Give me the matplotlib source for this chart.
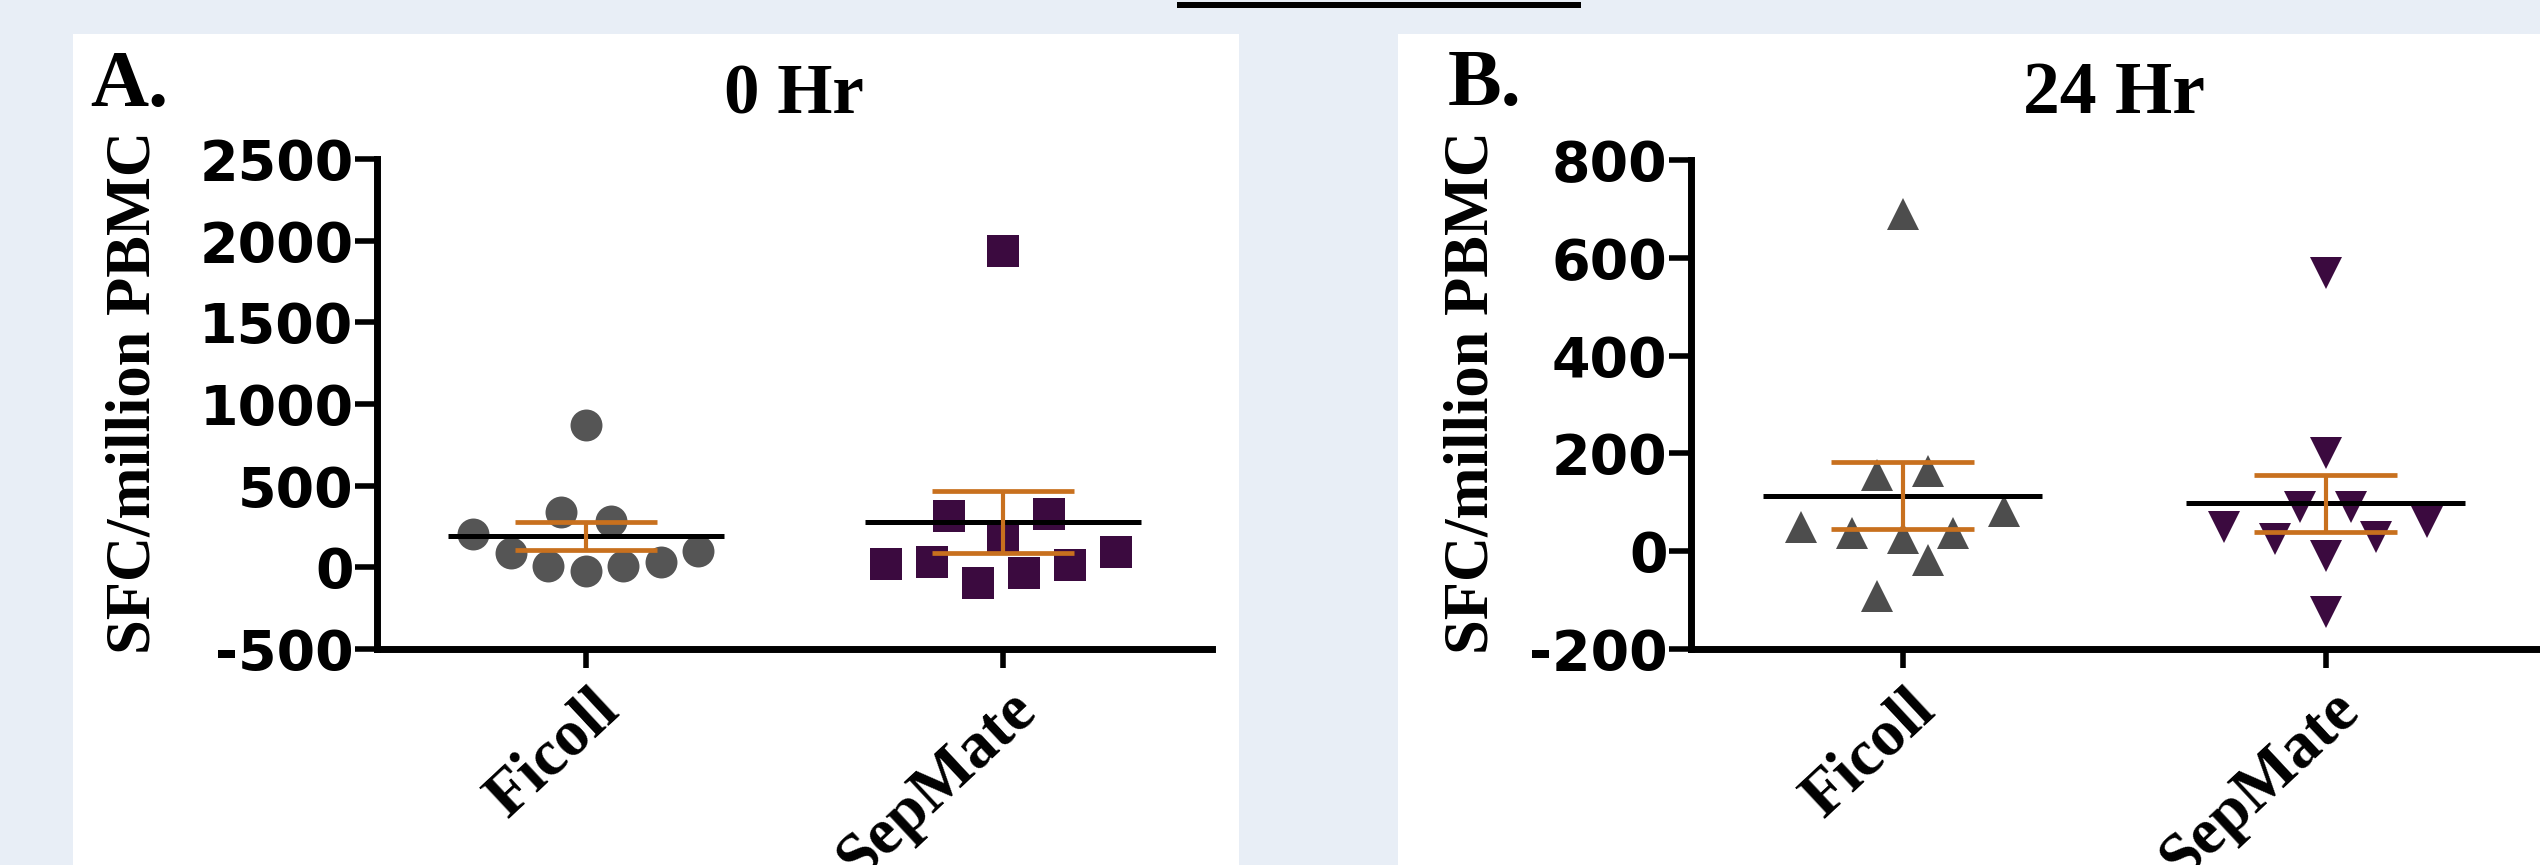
import numpy as np
import matplotlib
matplotlib.use("Agg")
import matplotlib.pyplot as plt
from matplotlib.patches import Rectangle
from matplotlib.transforms import blended_transform_factory, ScaledTranslation

plt.rcParams['axes.unicode_minus'] = False

groups = ['Ficoll', 'SepMate']

# SFC per million PBMC
ficoll_0h = [873, 204, 337, 286, 86, 10, -20, 10, 31, 102]
sepmate_0h = [1939, 316, 327, 184, 20, 31, -98, -37, 16, 92]
ficoll_24h = [690, 156, 163, 49, 38, 26, 38, 83, -17, -92]
sepmate_24h = [569, 201, 90, 90, 50, 60, 25, 30, -9, -125]

# horizontal scatter of the points around each group
ficoll_0h_dx = [0, -0.27, -0.06, 0.06, -0.18, -0.09, 0, 0.09, 0.18, 0.27]
sepmate_0h_dx = [0, -0.13, 0.11, 0, -0.28, -0.17, -0.06, 0.05, 0.16, 0.27]
ficoll_24h_dx = [0, -0.06, 0.06, -0.24, -0.12, 0, 0.12, 0.24, 0.06, -0.06]
sepmate_24h_dx = [0, 0, -0.06, 0.06, -0.24, 0.24, -0.12, 0.12, 0, 0]

ticks_0h = [-500, 0, 500, 1000, 1500, 2000, 2500]
ticks_24h = [-200, 0, 200, 400, 600, 800]

W, H = 2540, 865
bg = '#e8eef6'
grey = '#555555'
purple = '#3b0a3f'
orange = '#c8701e'
serif = 'Liberation Serif'

fig = plt.figure(figsize=(W / 100, H / 100), dpi=100, facecolor=bg)

# white panels and the bar at the top
fig.patches.append(Rectangle((73 / W, 0), (1239 - 73) / W, (H - 34) / H,
                             transform=fig.transFigure, facecolor='white', edgecolor='none', zorder=-2))
fig.patches.append(Rectangle((1398 / W, 0), (W - 1398) / W, (H - 34) / H,
                             transform=fig.transFigure, facecolor='white', edgecolor='none', zorder=-2))
fig.patches.append(Rectangle((1177 / W, 1 - 8 / H), (1581 - 1177) / W, 6 / H,
                             transform=fig.transFigure, facecolor='black', edgecolor='none', zorder=-1))


def panel(rect, series, offsets, markers, colors, ticks):
    ax = fig.add_axes(rect)
    ax.set_facecolor('none')
    for i, (vals, dx, m, c) in enumerate(zip(series, offsets, markers, colors)):
        vals = np.array(vals, dtype=float)
        ax.plot(i + np.array(dx), vals, linestyle='none', marker=m, color=c,
                markersize=23, markeredgewidth=0, zorder=2)
        mean = vals.mean()
        sem = vals.std(ddof=1) / np.sqrt(len(vals))
        ax.hlines(mean, i - 0.33, i + 0.33, color='black', lw=3.6, zorder=3)
        ax.vlines(i, mean - sem, mean + sem, color=orange, lw=3, zorder=4)
        ax.hlines([mean - sem, mean + sem], i - 0.17, i + 0.17, color=orange, lw=3.4, zorder=4)
    ax.set_xlim(-0.5, 1.5)
    ax.set_ylim(ticks[0], ticks[-1])
    ax.set_yticks(ticks)
    ax.set_yticklabels([str(t) for t in ticks], fontfamily='DejaVu Sans',
                       fontweight='bold', fontsize=40)
    ax.set_xticks([0, 1])
    ax.set_xticklabels([])
    ax.tick_params(axis='y', length=16, width=4, pad=1, color='black')
    ax.tick_params(axis='x', length=14, width=4, color='black')
    for s in ['top', 'right']:
        ax.spines[s].set_visible(False)
    for s in ['left', 'bottom']:
        ax.spines[s].set_linewidth(5)
    tr = blended_transform_factory(ax.transData, ax.transAxes)
    for i, g in enumerate(groups):
        ax.text(i, 0, g, transform=tr + ScaledTranslation(0.04, -0.30, fig.dpi_scale_trans),
                rotation=43, rotation_mode='anchor', ha='right', va='top',
                fontfamily=serif, fontweight='bold', fontsize=47, clip_on=False)
    return ax


ax1 = panel([377 / W, 1 - 649 / H, (1212 - 377) / W, (649 - 159) / H],
            [ficoll_0h, sepmate_0h], [ficoll_0h_dx, sepmate_0h_dx],
            ['o', 's'], [grey, purple], ticks_0h)
ax2 = panel([1691 / W, 1 - 649 / H, (W - 3 - 1691) / W, (649 - 160) / H],
            [ficoll_24h, sepmate_24h], [ficoll_24h_dx, sepmate_24h_dx],
            ['^', 'v'], ['#4d4d4d', purple], ticks_24h)

ylab = 'SFC/million PBMC'
for x in [150, 1487]:
    fig.text(x / W, 1 - 392 / H, ylab, rotation=90, rotation_mode='anchor',
             ha='center', va='baseline', fontfamily=serif, fontweight='bold', fontsize=45)

fig.text(794 / W, 1 - 113 / H, '0 Hr', ha='center', va='baseline',
         fontfamily=serif, fontweight='bold', fontsize=51)
fig.text(2114 / W, 1 - 113 / H, '24 Hr', ha='center', va='baseline',
         fontfamily=serif, fontweight='bold', fontsize=53)
fig.text(90 / W, 1 - 106 / H, 'A.', ha='left', va='baseline',
         fontfamily=serif, fontweight='bold', fontsize=58)
fig.text(1448 / W, 1 - 105 / H, 'B.', ha='left', va='baseline',
         fontfamily=serif, fontweight='bold', fontsize=58)

fig.savefig('out.png', dpi=100, facecolor=bg)
